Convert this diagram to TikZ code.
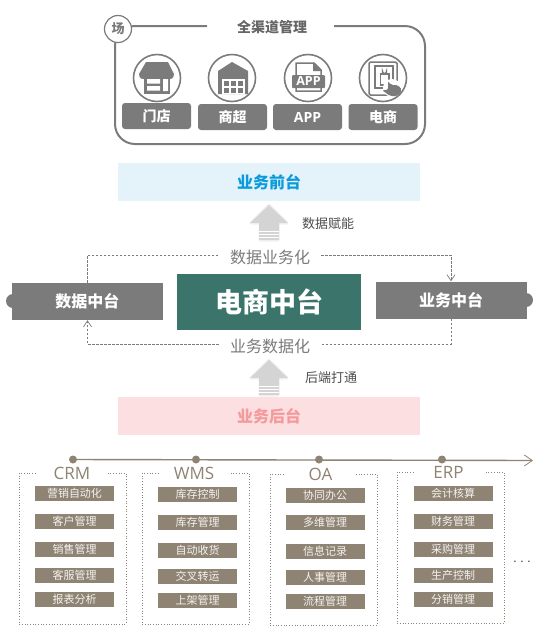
\documentclass[tikz,border=0pt]{standalone}
\usepackage{fontspec}
\setmainfont{Noto Sans CJK SC}
\newfontfamily\latinfont{Open Sans}
\usepackage{xcolor}
\usetikzlibrary{arrows.meta,positioning}
\definecolor{framegray}{HTML}{7B7B7B}
\definecolor{deepgreen}{HTML}{3A746B}
\definecolor{taupe}{HTML}{8F8373}
\definecolor{frontbg}{HTML}{E4F2F9}
\definecolor{frontfg}{HTML}{0A9BDC}
\definecolor{backbg}{HTML}{FCDFE0}
\definecolor{backfg}{HTML}{F49A9C}
\definecolor{arrowgray}{HTML}{D4D4D4}
\begin{document}
\begin{tikzpicture}[x=1pt,y=-1pt,
  tagbox/.style={fill=framegray,rounded corners=3pt,text=white,font=\fontsize{14}{14}\selectfont\bfseries,
    minimum width=69pt,minimum height=26pt,inner sep=0pt},
  iconring/.style={draw=framegray,line width=1.6pt,fill=white,circle,minimum size=47pt,inner sep=0pt},
  layerbox/.style={minimum width=302pt,minimum height=38pt,inner sep=0pt,
    font=\fontsize{16}{16}\selectfont\bfseries},
  sidebox/.style={fill=framegray,text=white,minimum width=151pt,minimum height=37pt,inner sep=0pt,
    font=\fontsize{16}{16}\selectfont\bfseries},
  flowlabel/.style={text=framegray,fill=white,minimum width=102pt,inner sep=0pt,
    font=\fontsize{16}{16}\selectfont},
  sidenote/.style={text=black!70,inner sep=0pt,font=\fontsize{13}{13}\selectfont},
  itembox/.style={fill=taupe,text=white!90!taupe,minimum width=79pt,minimum height=15pt,inner sep=0pt,
    font=\fontsize{11}{12}\selectfont},
  sysbox/.style={draw=taupe,dotted,line width=.7pt},
  syslabel/.style={text=taupe,fill=white,minimum width=70pt,inner sep=0pt,
    font=\latinfont\fontsize{17}{17}\selectfont},
  flowline/.style={framegray,dashed,dash pattern=on 2.5pt off 1.5pt,line width=.7pt},
  >={Straight Barb[length=6pt,width=8pt]}
]
\useasboundingbox (0,0) rectangle (541,641);
% channel frame
\draw[framegray,line width=2pt,rounded corners=20pt] (207,26) -- (115,26) -- (115,144) -- (425,144) -- (425,26) -- (334,26);
\node[text=black!60,inner sep=0pt,font=\fontsize{14}{14}\selectfont\bfseries] (channel) at (272,27) {全渠道管理};
\node[draw=framegray,line width=1.2pt,fill=white,circle,minimum size=27pt,inner sep=0pt,
      text=framegray,font=\fontsize{13}{13}\selectfont\bfseries] (field) at (118,29) {场};
\node[iconring] (shop)  at (157,78) {};
\node[iconring] (super) at (232,78) {};
\node[iconring] (app)   at (308,78) {};
\node[iconring] (web)   at (383,78) {};
\node[tagbox] (shoptag)  at (156.5,116) {门店};
\node[tagbox] (supertag) at (232.5,117) {商超};
\node[tagbox,font=\latinfont\fontsize{14}{14}\selectfont\bfseries] (apptag) at (307.5,117) {APP};
\node[tagbox] (webtag)   at (383,117) {电商};
% shop icon
\fill[framegray] (146,62) -- (168,62) -- (174,74) .. controls (174,79) and (170,80) .. (168,78)
  -- (146,78) .. controls (143,80) and (139,79) .. (139,74) -- cycle;
\fill[framegray] (144,76) rectangle (170,94);
\fill[white] (147,79) rectangle (160,83.5) (147,86) rectangle (160,90.5) (163,79) rectangle (168,91);
% market icon
\fill[framegray] (232,62) -- (248,71) -- (248,94) -- (218,94) -- (218,71) -- cycle;
\fill[white] (222,79) rectangle (245,94);
\foreach \x in {224,231,238}
  \foreach \y in {81,88}
    \fill[framegray] (\x,\y) rectangle +(5,5);
% app icon
\draw[framegray,line width=1.5pt] (296,91) -- (296,63) -- (314,63) -- (321,70) -- (321,91) -- cycle;
\fill[framegray] (313,62) -- (322,71) -- (313,71) -- cycle;
\fill[framegray,rounded corners=1pt] (292,75) rectangle (325,88);
\node[text=white,inner sep=0pt,font=\latinfont\fontsize{12.5}{12.5}\selectfont\bfseries] (applogo) at (308.5,81.5) {APP};
% tablet icon
\draw[framegray,line width=1.5pt,rounded corners=1.5pt] (369,62) rectangle (397,95);
\draw[framegray,line width=1.2pt] (375,66) rectangle (393,88);
\draw[framegray,line width=1.2pt] (380.5,74) rectangle (389,85);
\draw[framegray,line width=1.2pt] (382.5,74) -- (382.5,71) arc[start angle=180,end angle=360,x radius=2,y radius=-2.5] -- (386.5,74);
\fill[white] (392,88) circle[radius=9];
\fill[framegray,rounded corners=2pt] (388,81) -- (391,85) -- (398,85) -- (402,90) -- (398,96) -- (390,96) -- (382,90) -- (388,90) -- cycle;
% layers
\node[layerbox,fill=frontbg,text=frontfg] (front) at (269,182) {\raisebox{-1pt}{业务前台}};
\node[layerbox,fill=backbg,text=backfg]   (back)  at (269,416) {\raisebox{-1pt}{业务后台}};
\node[fill=deepgreen,text=white,minimum width=184pt,minimum height=56pt,inner sep=0pt,
      font=\fontsize{27}{27}\selectfont\bfseries] (mid) at (269,302) {电商中台};
\fill[framegray] (13,301) circle[radius=7];
\fill[framegray] (526,300) circle[radius=7];
\node[sidebox] (datamid) at (87.5,301.5) {\raisebox{-1.5pt}{数据中台}};
\node[sidebox] (bizmid)  at (451,300) {\raisebox{-1.5pt}{业务中台}};
% up arrows
\foreach \ay in {205,360}{
  \draw[black!5,line width=3pt,line join=round] (269,\ay) -- (287,\ay+18) -- (278,\ay+18)
     -- (278,\ay+35) -- (260,\ay+35) -- (260,\ay+18) -- (251,\ay+18) -- cycle;
  \fill[arrowgray] (269,\ay) -- (288,\ay+18) -- (279,\ay+18)
     -- (279,\ay+35) -- (259,\ay+35) -- (259,\ay+18) -- (250,\ay+18) -- cycle;
  \foreach \sy in {26,29,32}
    \draw[white,line width=.6pt] (259,\ay+\sy) -- (279,\ay+\sy);
}
\node[sidenote] (empower) at (328,224) {数据赋能};
\node[sidenote] (connect) at (331,378) {后端打通};
% flow loop
\node[flowlabel,text depth=0pt] (datatobiz) at (270,255) {\raisebox{-3.5pt}{数据业务化}};
\node[flowlabel,text depth=0pt] (biztodata) at (270,344) {\raisebox{-4.5pt}{业务数据化}};
\draw[flowline] (datamid.north) |- (datatobiz.west);
\draw[flowline,->] (datatobiz.east) -| (bizmid.north);
\draw[flowline] (bizmid.south) |- (biztodata.east);
\draw[flowline,->] (biztodata.west) -| (datamid.south);
% timeline
\coordinate (tlstart) at (73,459.5);
\coordinate (tlend) at (533,460.5);
\draw[taupe,line width=1.4pt,-{Straight Barb[length=8pt,width=11pt,line width=.8pt]}] (tlstart) -- (tlend);
\foreach \x in {73,196,319,442}
  \fill[taupe] (\x,459.5) circle[radius=4];
% systems
\foreach \x/\lx/\ty/\nm/\ix/\iy/\ia/\ib/\ic/\id/\ie in {
  19/72/473/CRM/74.5/0/营销自动化/客户管理/销售管理/客服管理/报表分析,
  142/194/473/WMS/197.5/1/库存控制/库存管理/自动收货/交叉转运/上架管理,
  270/320.5/474/OA/325/1.5/协同办公/多维管理/信息记录/人事管理/流程管理,
  397/448.5/472/ERP/453/0/会计核算/财务管理/采购管理/生产控制/分销管理}{
  \draw[sysbox] (\x,\ty) rectangle +(107,151);
  \node[syslabel] (lab\nm) at (\lx,\ty) {\raisebox{-1pt}{\nm}};
  \foreach \yy/\txt/\k in {493.5/\ia/1,521/\ib/2,549.5/\ic/3,575.5/\id/4,599.5/\ie/5}
    \node[itembox] (\nm\k) at (\ix,\yy+\iy) {\txt};
}
\node[text=black!70,inner sep=0pt,font=\fontsize{12}{12}\selectfont] (more) at (522,562) {. . .};
\end{tikzpicture}
\end{document}
